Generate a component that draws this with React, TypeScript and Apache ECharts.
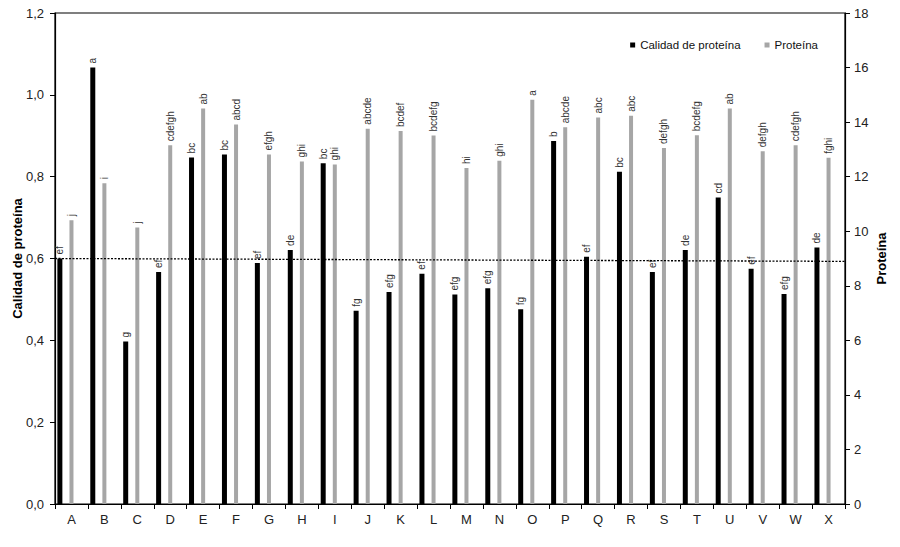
import React, { useEffect, useRef } from "react";
import * as echarts from "echarts";

const categories = ["A","B","C","D","E","F","G","H","I","J","K","L","M","N","O","P","Q","R","S","T","U","V","W","X"];
const calidad = [0.60,1.067,0.397,0.567,0.847,0.854,0.589,0.621,0.833,0.472,0.518,0.563,0.512,0.527,0.476,0.887,0.604,0.812,0.567,0.621,0.749,0.575,0.513,0.627];
const proteina = [10.40,11.76,10.14,13.15,14.50,13.91,12.81,12.56,12.45,13.76,13.67,13.51,12.32,12.58,14.82,13.81,14.17,14.23,13.05,13.52,14.50,12.93,13.15,12.69];
const calidadLetters = ["ef","a","g","ef","bc","bc","ef","de","bc","fg","efg","ef","efg","efg","fg","b","ef","bc","ef","de","cd","ef","efg","de"];
const proteinaLetters = ["j","i","j","cdefgh","ab","abcd","efgh","ghi","ghi","abcde","bcdef","bcdefg","hi","ghi","a","abcde","abc","abc","defgh","bcdefg","ab","defgh","cdefgh","fghi"];
const trendLine: [number, number][] = [[0, 0.600], [24, 0.593]];
const leftTicks = { min: 0, max: 1.2, interval: 0.2 };
const rightTicks = { min: 0, max: 18, interval: 2 };

const FONT = "'Liberation Sans', Arial, sans-serif";

export default function App() {
  const ref = useRef<HTMLDivElement>(null);
  useEffect(() => {
    if (!ref.current) return;
    const chart = echarts.init(ref.current, null, { renderer: "svg" });
    const barLabel = (letters: string[]) => ({
      show: true,
      position: "top",
      rotate: 90,
      align: "left",
      verticalAlign: "middle",
      distance: 4,
      fontSize: 10,
      color: "#333",
      fontFamily: FONT,
      formatter: (p: any) => letters[p.dataIndex],
    });
    chart.setOption({
      animation: false,
      backgroundColor: "#fff",
      textStyle: { fontFamily: FONT },
      grid: {
        left: 55,
        right: 55,
        top: 13,
        bottom: 43,
        containLabel: false,
        outerBoundsMode: "none",
        show: true,
        borderColor: "#000",
        borderWidth: 1.2,
      },
      legend: {
        data: ["Calidad de proteína", "Proteína"],
        top: 34,
        right: 77,
        icon: "rect",
        itemWidth: 5,
        itemHeight: 5,
        itemGap: 24,
        textStyle: { fontSize: 11.5, color: "#111", fontFamily: FONT },
      },
      xAxis: [
        {
          type: "category",
          data: categories,
          axisLine: { lineStyle: { color: "#000", width: 1.2 } },
          axisTick: { show: true, length: 5, lineStyle: { color: "#000" } },
          axisLabel: { fontSize: 13, color: "#222", margin: 9, fontFamily: FONT },
        },
        { type: "value", min: 0, max: 24, show: false },
      ],
      yAxis: [
        {
          type: "value",
          min: leftTicks.min,
          max: leftTicks.max,
          interval: leftTicks.interval,
          name: "Calidad de proteína",
          nameLocation: "middle",
          nameGap: 31,
          nameMoveOverlap: false,
          nameTextStyle: { fontSize: 13, fontWeight: "bold", color: "#000", fontFamily: FONT },
          axisLine: { show: true, lineStyle: { color: "#000", width: 1.2 } },
          axisTick: { show: true, length: 5, lineStyle: { color: "#000" } },
          splitLine: { show: false },
          axisLabel: {
            fontSize: 13,
            color: "#222",
            margin: 11,
            fontFamily: FONT,
            formatter: (v: number) => v.toFixed(1).replace(".", ","),
          },
        },
        {
          type: "value",
          min: rightTicks.min,
          max: rightTicks.max,
          interval: rightTicks.interval,
          position: "right",
          name: "Proteína",
          nameLocation: "middle",
          nameGap: 30,
          nameMoveOverlap: false,
          nameRotate: 90,
          nameTextStyle: { fontSize: 13, fontWeight: "bold", color: "#000", fontFamily: FONT },
          axisLine: { show: true, lineStyle: { color: "#000", width: 1.2 } },
          axisTick: { show: true, length: 5, lineStyle: { color: "#000" } },
          splitLine: { show: false },
          axisLabel: { fontSize: 13, color: "#222", margin: 9, fontFamily: FONT },
        },
      ],
      series: [
        {
          name: "Calidad de proteína",
          type: "bar",
          data: calidad,
          xAxisIndex: 0,
          yAxisIndex: 0,
          barWidth: 5,
          barGap: "142%",
          itemStyle: { color: "#000" },
          label: barLabel(calidadLetters),
        },
        {
          name: "Proteína",
          type: "bar",
          data: proteina,
          xAxisIndex: 0,
          yAxisIndex: 1,
          barWidth: 4,
          barGap: "142%",
          itemStyle: { color: "#a6a6a6" },
          label: barLabel(proteinaLetters),
        },
        {
          name: "_spacer",
          type: "bar",
          data: proteina,
          xAxisIndex: 0,
          yAxisIndex: 1,
          barWidth: 6.4,
          barGap: "142%",
          silent: true,
          tooltip: { show: false },
          itemStyle: { color: "rgba(0,0,0,0)" },
          label: { show: false },
        },
        {
          name: "trend",
          type: "line",
          data: trendLine,
          xAxisIndex: 1,
          yAxisIndex: 0,
          symbol: "none",
          silent: true,
          lineStyle: { color: "#000", width: 1.3, type: [2, 1.5] },
          z: 5,
        },
      ],
    });
    return () => chart.dispose();
  }, []);
  return <div ref={ref} style={{ position: "fixed", left: 0, top: 0, width: 900, height: 547 }} />;
}
